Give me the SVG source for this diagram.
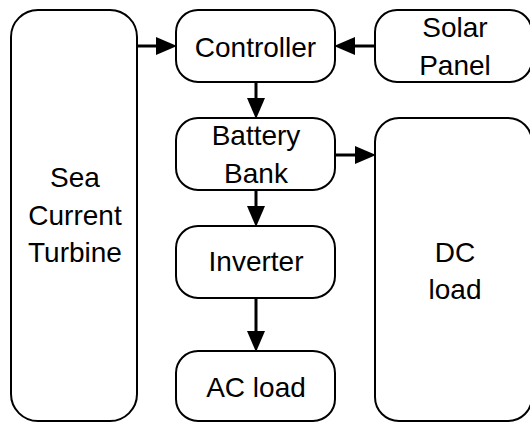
<svg xmlns="http://www.w3.org/2000/svg" width="530" height="423" viewBox="0 0 530 423">
<style>
.box{fill:#fff;stroke:#000;stroke-width:2}
.lbl{font-family:"Liberation Sans",Arial,sans-serif;font-size:28px;fill:#000;text-anchor:middle}
.conn{stroke:#000;stroke-width:3;fill:none;marker-end:url(#ah)}
</style>
<defs>
<marker id="ah" markerUnits="userSpaceOnUse" viewBox="-1 -9 21 18" markerWidth="21" markerHeight="18" refX="-1" refY="0" orient="auto">
<path d="M-1,-9 L20,0 L-1,9 Z" fill="#000"/>
</marker>
</defs>
<rect width="530" height="423" fill="#fff"/>
<g id="turbine"><rect class="box" x="11" y="10" width="126" height="411" rx="27"/><text class="lbl" x="75" y="187">Sea</text><text class="lbl" x="75" y="225">Current</text><text class="lbl" x="75" y="262">Turbine</text></g>
<g id="controller"><rect class="box" x="176" y="10" width="159" height="72" rx="22"/><text class="lbl" x="255.5" y="57">Controller</text></g>
<g id="solar"><rect class="box" x="375" y="10" width="157" height="72" rx="22"/><text class="lbl" x="455" y="37">Solar</text><text class="lbl" x="455" y="75">Panel</text></g>
<g id="battery"><rect class="box" x="176" y="118" width="159" height="72" rx="22"/><text class="lbl" x="256" y="145">Battery</text><text class="lbl" x="256" y="183">Bank</text></g>
<g id="dcload"><rect class="box" x="375" y="118" width="157" height="303" rx="24"/><text class="lbl" x="455" y="262">DC</text><text class="lbl" x="455" y="299">load</text></g>
<g id="inverter"><rect class="box" x="176" y="226" width="159" height="72" rx="22"/><text class="lbl" x="256" y="271">Inverter</text></g>
<g id="acload"><rect class="box" x="176" y="351" width="159" height="70" rx="22"/><text class="lbl" x="256" y="397">AC load</text></g>
<g id="connectors">
<line class="conn" x1="137" y1="46" x2="156" y2="46"/>
<line class="conn" x1="375" y1="46" x2="355" y2="46"/>
<line class="conn" x1="256" y1="82" x2="256" y2="98"/>
<line class="conn" x1="335" y1="155" x2="355" y2="155"/>
<line class="conn" x1="256" y1="190" x2="256" y2="206"/>
<line class="conn" x1="256" y1="298" x2="256" y2="331"/>
</g>
</svg>
